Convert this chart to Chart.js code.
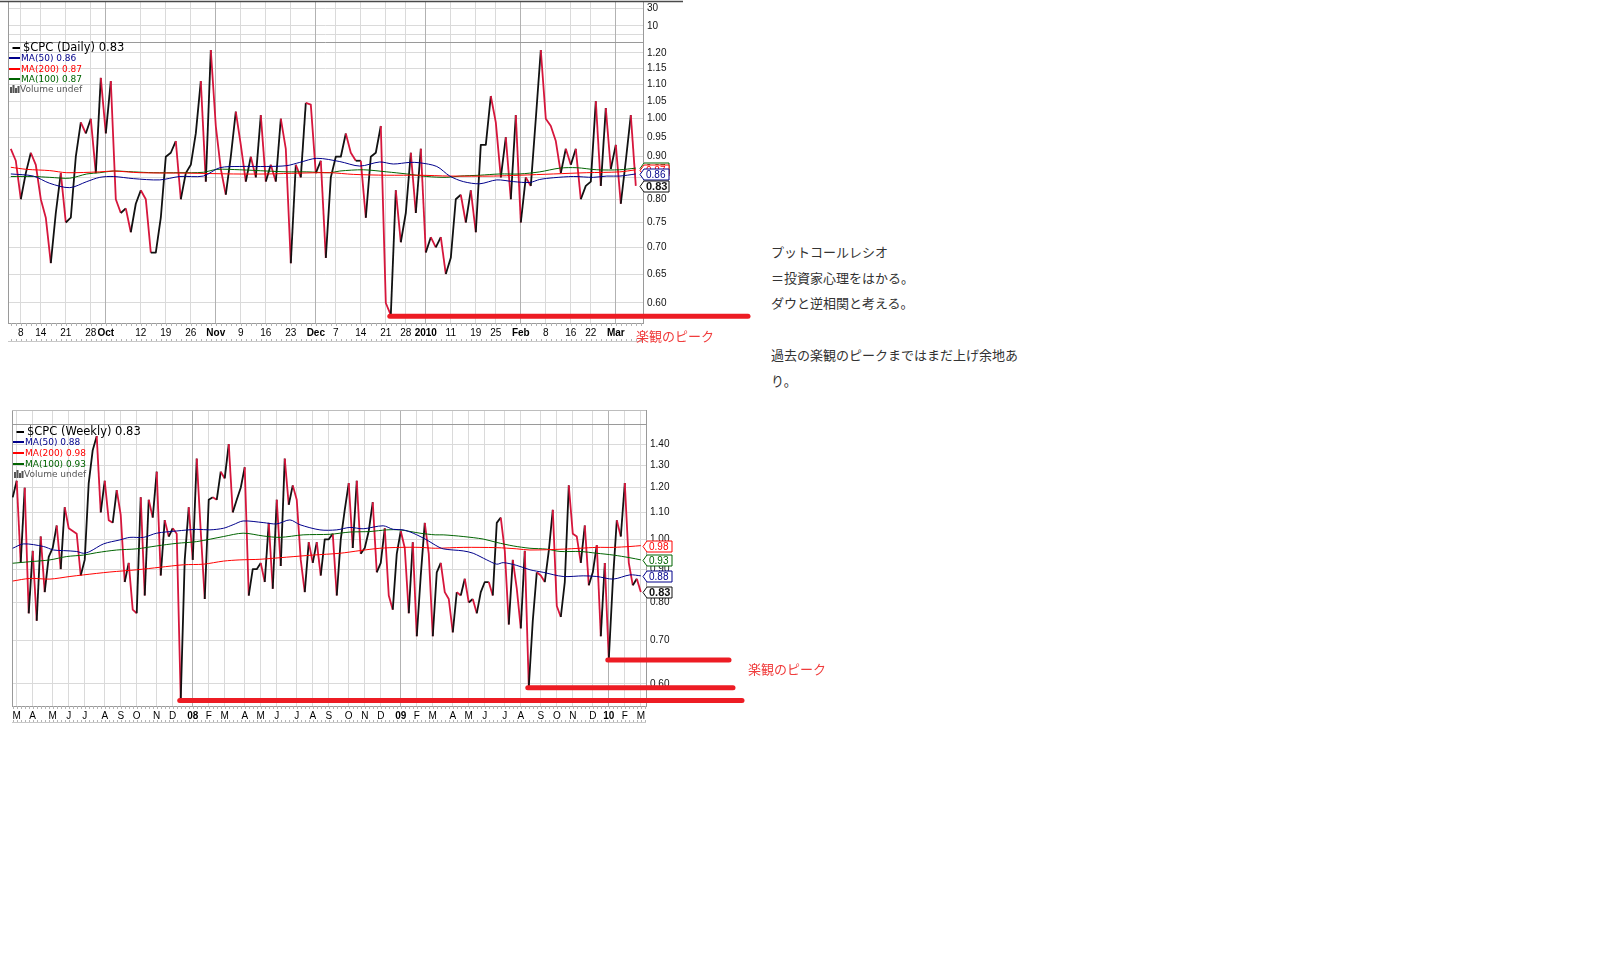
<!DOCTYPE html>
<html lang="ja">
<head>
<meta charset="utf-8">
<title>$CPC プットコールレシオ</title>
<script src="https://cdn.jsdelivr.net/npm/chart.js@4.4.1/dist/chart.umd.min.js"></script>
<style>
  html, body { margin: 0; padding: 0; background: #fff; }
  body { width: 1612px; height: 980px; position: relative; overflow: hidden; }
  canvas { position: absolute; left: 0; }
  #daily { top: 0; }
  #weekly { top: 408px; }
  .peak { position: absolute; color: #f03c3c; font: 13px "Noto Sans CJK JP", sans-serif; line-height: 18px; white-space: nowrap; }
  #memo { position: absolute; left: 771px; top: 239px; font: 13px "Noto Sans CJK JP", sans-serif; line-height: 25.7px; color: #333; white-space: nowrap; }
</style>
</head>
<body>
<canvas id="daily" width="760" height="350"></canvas>
<canvas id="weekly" width="760" height="320"></canvas>
<div class="peak" style="left:636px; top:327px;">楽観のピーク</div>
<div class="peak" style="left:748px; top:660px;">楽観のピーク</div>
<div id="memo">プットコールレシオ<br>＝投資家心理をはかる。<br>ダウと逆相関と考える。<br><br>過去の楽観のピークまではまだ上げ余地あ<br>り。</div>
<script>
// ---- 日足 $CPC (2009/9/3 - 2010/3/5, 営業日ごと) ----
const dailyCPC = [
  0.92, 0.89, 0.80, 0.86, 0.91, 0.88, 0.80, 0.76, 0.67, 0.77,
  0.86, 0.75, 0.76, 0.90, 0.99, 0.96, 1.00, 0.86, 1.12, 0.96,
  1.11, 0.80, 0.77, 0.78, 0.73, 0.79, 0.82, 0.80, 0.69, 0.69,
  0.76, 0.90, 0.91, 0.94, 0.80, 0.86, 0.88, 0.96, 1.11, 0.84,
  1.21, 0.98, 0.87, 0.81, 0.90, 1.02, 0.93, 0.84, 0.90, 0.85,
  1.01, 0.84, 0.88, 0.84, 1.00, 0.92, 0.67, 0.88, 0.85, 1.045,
  1.04, 0.86, 0.89, 0.68, 0.85, 0.90, 0.90, 0.96, 0.91, 0.89,
  0.89, 0.76, 0.90, 0.91, 0.98, 0.60, 0.58, 0.82, 0.71, 0.77,
  0.91, 0.77, 0.92, 0.69, 0.72, 0.70, 0.72, 0.65, 0.68, 0.80,
  0.81, 0.75, 0.82, 0.73, 0.93, 0.93, 1.065, 0.99, 0.85, 0.95,
  0.80, 1.01, 0.75, 0.85, 0.83, 1.00, 1.21, 1.00, 0.98, 0.94,
  0.86, 0.92, 0.88, 0.92, 0.80, 0.83, 0.84, 1.05, 0.83, 1.03,
  0.87, 0.93, 0.79, 0.89, 1.01, 0.83
];
// 移動平均は [営業日番号, 値] で読み取り
const dailyMA50 = [[0,0.858],[4.5,0.853],[7.8,0.836],[11.8,0.826],[15.2,0.840],[17.8,0.850],[20.5,0.852],[24.5,0.847],[29.8,0.844],[33.8,0.852],[38.5,0.853],[41.8,0.873],[45.8,0.876],[51.2,0.876],[55.2,0.878],[57.8,0.886],[61.2,0.896],[65.8,0.888],[69.8,0.877],[73.8,0.887],[76.5,0.882],[79.8,0.886],[81.8,0.885],[85.2,0.876],[87.8,0.853],[90.5,0.840],[93.8,0.835],[97.2,0.844],[100.5,0.840],[103.8,0.838],[105.8,0.845],[108.5,0.849],[112.5,0.852],[116.5,0.850],[119.2,0.853],[121.8,0.853],[125,0.858]];
const dailyMA200 = [[0,0.874],[3.2,0.869],[7.8,0.866],[11.2,0.861],[17.8,0.863],[20.5,0.865],[25.8,0.861],[35.2,0.860],[44.5,0.858],[51.2,0.858],[57.8,0.860],[63.8,0.861],[68.5,0.857],[75.2,0.855],[81.8,0.855],[87.8,0.853],[96.5,0.853],[101.8,0.855],[108.5,0.858],[115.2,0.861],[121.8,0.863],[125,0.868]];
const dailyMA100 = [[0,0.852],[4.5,0.852],[7.8,0.850],[11.8,0.848],[15.2,0.858],[17.8,0.861],[20.5,0.865],[24.5,0.863],[28.5,0.861],[33.8,0.861],[38.5,0.862],[41.2,0.869],[45.8,0.868],[51.2,0.865],[55.2,0.863],[59.2,0.863],[63.8,0.861],[65.8,0.865],[70.5,0.868],[75.2,0.863],[79.2,0.858],[83.2,0.852],[87.2,0.850],[89.8,0.853],[93.8,0.855],[97.8,0.858],[101.8,0.858],[105.8,0.863],[109.8,0.872],[113.2,0.873],[117.2,0.868],[121.8,0.868],[125,0.872]];
const dailyTickPos = [2, 6, 11, 16, 19, 26, 31, 36, 41, 46, 51, 56, 61, 65, 70, 75, 79, 83, 88, 93, 97, 102, 107, 112, 116, 121];
const dailyTickLabels = ['8','14','21','28','Oct','12','19','26','Nov','9','16','23','Dec','7','14','21','28','2010','11','19','25','Feb','8','16','22','Mar'];
const dailyYTicks = [0.60, 0.65, 0.70, 0.75, 0.80, 0.85, 0.90, 0.95, 1.00, 1.05, 1.10, 1.15, 1.20];
const dailyTopTicks = [0, 10, 30];
const dailyPeakIdx = [76];

// ---- 週足 $CPC (2007/3 - 2010/3, 週ごと) ----
const weeklyCPC = [
  1.16, 1.23, 0.92, 1.20, 0.77, 0.96, 0.75, 1.01, 0.83, 0.94,
  0.97, 1.05, 0.90, 1.12, 1.04, 1.03, 1.02, 0.88, 0.93, 1.22,
  1.37, 1.44, 1.10, 1.23, 1.07, 1.06, 1.19, 1.09, 0.86, 0.92,
  0.78, 0.77, 1.16, 0.82, 1.15, 1.08, 1.27, 0.88, 1.07, 1.01,
  1.04, 1.02, 0.568, 0.93, 1.12, 0.93, 1.33, 1.03, 0.81, 1.15,
  1.16, 1.15, 1.27, 1.24, 1.40, 1.10, 1.15, 1.20, 1.29, 0.82,
  0.90, 0.90, 0.92, 0.86, 1.06, 0.84, 1.15, 0.91, 1.33, 1.13,
  1.21, 1.15, 0.93, 0.83, 0.99, 0.92, 0.99, 0.88, 1.00, 1.00,
  1.02, 0.82, 1.00, 1.11, 1.22, 0.97, 1.23, 0.95, 0.97, 1.03,
  1.14, 0.89, 0.92, 1.04, 0.82, 0.78, 0.95, 1.03, 0.97, 0.77,
  0.99, 0.71, 0.88, 1.06, 0.95, 0.71, 0.89, 0.92, 0.83, 0.81,
  0.72, 0.83, 0.82, 0.87, 0.80, 0.81, 0.77, 0.83, 0.86, 0.86,
  0.82, 1.06, 1.08, 0.96, 0.74, 0.93, 0.84, 0.73, 0.96, 0.594,
  0.75, 0.89, 0.88, 0.86, 0.96, 1.11, 0.79, 0.76, 0.86, 1.21,
  1.02, 1.01, 0.92, 1.05, 0.85, 0.89, 0.98, 0.71, 0.92, 0.655,
  0.86, 1.07, 1.01, 1.22, 0.92, 0.85, 0.87, 0.83
];
const weeklyMA50 = [[0,0.969],[2.7,0.984],[7.7,0.975],[10.2,0.963],[12.7,0.961],[16,0.958],[17.7,0.952],[19.3,0.958],[22.7,0.984],[26.8,0.998],[29.3,1.007],[32.7,1.007],[36,1.022],[41,1.030],[46,1.036],[49.3,1.034],[52.7,1.040],[55.1,1.053],[57.6,1.067],[62.6,1.061],[66,1.056],[69.3,1.071],[71.8,1.053],[76.8,1.034],[81,1.034],[84.3,1.043],[87.6,1.038],[92.6,1.049],[95.1,1.036],[97.6,1.034],[100.1,1.022],[103.5,0.998],[105.6,0.980],[107.6,0.967],[112.6,0.960],[115.1,0.952],[118.5,0.930],[121,0.916],[122.6,0.921],[126,0.912],[129.3,0.898],[132.6,0.890],[137.6,0.877],[142.6,0.879],[146,0.877],[150.1,0.869],[154.3,0.882],[157,0.879]];
const weeklyMA200 = [[0,0.863],[4.3,0.871],[9.3,0.869],[14.3,0.877],[17.7,0.882],[24.3,0.891],[31,0.898],[36.8,0.906],[42.7,0.914],[47.7,0.916],[52.7,0.926],[56.8,0.930],[61.8,0.932],[68.5,0.939],[75.1,0.946],[81.8,0.952],[86.8,0.961],[91.8,0.969],[96.8,0.972],[101.8,0.972],[105.6,0.969],[112.6,0.972],[121,0.971],[126,0.967],[129.3,0.963],[137.6,0.966],[141.8,0.969],[146,0.972],[150.1,0.972],[154.3,0.975],[157,0.978]];
const weeklyMA100 = [[0,0.919],[4.3,0.924],[9.3,0.930],[13.5,0.941],[17.7,0.946],[21,0.954],[26,0.963],[31,0.967],[36,0.977],[41,0.986],[46,0.992],[52.7,1.010],[57.6,1.022],[62.6,1.012],[66.8,1.007],[72.6,1.016],[79.3,1.018],[84.3,1.026],[89.3,1.028],[93.5,1.034],[96.8,1.034],[101.8,1.022],[105.6,1.016],[107.6,1.016],[112.6,1.010],[117.6,1.001],[121,0.989],[125.1,0.977],[129.3,0.969],[133.5,0.966],[136.8,0.958],[141.8,0.958],[146,0.952],[150.1,0.946],[154.3,0.937],[157,0.930]];
const weeklyTickPos = [1,5,10,14,18,23,27,31,36,40,45,49,53,58,62,66,71,75,79,84,88,92,97,101,105,110,114,118,123,127,132,136,140,145,149,153,157];
const weeklyTickLabels = ['M','A','M','J','J','A','S','O','N','D','08','F','M','A','M','J','J','A','S','O','N','D','09','F','M','A','M','J','J','A','S','O','N','D','10','F','M'];
const weeklyYTicks = [0.60, 0.70, 0.80, 0.90, 1.00, 1.10, 1.20, 1.30, 1.40];
const weeklyPeakIdx = [42, 129, 149];

Chart.defaults.font.family = "'Liberation Sans', Arial, sans-serif";
Chart.defaults.font.size = 10;
Chart.defaults.color = '#111';

const UP = '#111111', DOWN = '#d6163c';
const NAVY = '#00008b', RED = '#ff0000', GREEN = '#006400';
const GRID = '#dadada', GRID_MAJOR = '#b2b2b2', FRAME = '#9a9a9a';
const PEAK_RED = '#ed1c24';

const fmt2 = v => v.toFixed(2);
const lastOf = arr => { const p = arr[arr.length - 1]; return Array.isArray(p) ? p[1] : p; };

// 軸ラベルのはみ出し分でプロット領域が縮まないようにする
function noPadding(s) {
  s.paddingTop = 0; s.paddingBottom = 0; s.paddingLeft = 0; s.paddingRight = 0;
}

// 枠線と目盛りの罫線
const panelFrame = {
  id: 'panelFrame',
  beforeDatasetsDraw(chart, args, o) {
    const { ctx, chartArea: a, scales } = chart;
    const main = scales.y, x = scales.x;
    ctx.save();
    ctx.lineWidth = 1;
    ctx.strokeStyle = FRAME;
    ctx.beginPath();
    ctx.moveTo(a.left + 0.5, a.top); ctx.lineTo(a.left + 0.5, a.bottom);
    const sep = Math.round(main.top) + 0.5;
    ctx.moveTo(a.left, sep); ctx.lineTo(a.right, sep);
    ctx.stroke();

    ctx.strokeStyle = o.topColor;
    ctx.lineWidth = o.topWidth;
    ctx.beginPath();
    ctx.moveTo(o.topFrom, a.top + 0.5); ctx.lineTo(a.right + o.topExtend, a.top + 0.5);
    ctx.stroke();

    // 日/週ごとの小目盛り
    ctx.strokeStyle = '#b4b4b4';
    ctx.lineWidth = 1;
    ctx.beginPath();
    for (let i = Math.ceil(x.min); i <= x.max; i++) {
      const px = Math.round(x.getPixelForValue(i)) + 0.5;
      ctx.moveTo(px, a.bottom); ctx.lineTo(px, a.bottom + 3);
      ctx.moveTo(px, a.bottom + o.rulerGap - 2); ctx.lineTo(px, a.bottom + o.rulerGap);
    }
    ctx.stroke();
    ctx.strokeStyle = '#c8c8c8';
    ctx.beginPath();
    ctx.moveTo(a.left, a.bottom + o.rulerGap + 0.5); ctx.lineTo(a.right, a.bottom + o.rulerGap + 0.5);
    ctx.stroke();
    ctx.restore();
  }
};

// 左上の凡例
const stockLegend = {
  id: 'stockLegend',
  afterDraw(chart, args, o) {
    const { ctx, chartArea: a } = chart;
    const top = chart.scales.y.top;
    ctx.save();
    ctx.textBaseline = 'middle';
    o.items.forEach((it, i) => {
      const cy = Math.round(top + o.first + i * o.step);
      if (it.bars) {
        ctx.fillStyle = it.color;
        [[2, 6], [4.5, 8], [7, 5], [9.5, 7]].forEach(([dx, h]) => ctx.fillRect(a.left + dx, cy + 4 - h, 2, h));
      } else {
        ctx.fillStyle = it.color;
        ctx.fillRect(a.left + it.dash[0], cy - 1, it.dash[1] - it.dash[0], 2);
      }
      ctx.font = it.font;
      ctx.fillStyle = it.color;
      ctx.fillText(it.text, a.left + it.textAt, cy + 0.5);
    });
    ctx.restore();
  }
};

// 右軸の最新値タグ
const valueTags = {
  id: 'valueTags',
  afterDraw(chart, args, o) {
    const { ctx, chartArea: a } = chart;
    const y = chart.scales.y;
    ctx.save();
    ctx.textBaseline = 'middle';
    o.order.forEach(idx => {
      const ds = chart.data.datasets[idx];
      const v = ds.data[ds.data.length - 1].y;
      const py = Math.round(y.getPixelForValue(v)) + 0.5;
      const tip = a.right - 3, bx = a.right + 1, w = 25, h = 11;
      ctx.beginPath();
      ctx.moveTo(tip, py);
      ctx.lineTo(bx, py - h / 2);
      ctx.lineTo(bx + w, py - h / 2);
      ctx.lineTo(bx + w, py + h / 2);
      ctx.lineTo(bx, py + h / 2);
      ctx.closePath();
      ctx.fillStyle = '#fff';
      ctx.fill();
      ctx.lineWidth = 1;
      ctx.strokeStyle = ds.borderColor;
      ctx.stroke();
      ctx.font = idx === 0 ? "bold 11px 'Liberation Sans', Arial" : "10px 'Liberation Sans', Arial";
      ctx.fillStyle = ds.borderColor;
      ctx.fillText(fmt2(v), bx + 2, py + 0.5);
    });
    ctx.restore();
  }
};

// 「楽観のピーク」の赤線
const peakLines = {
  id: 'peakLines',
  afterDraw(chart, args, o) {
    const { ctx, chartArea: a, scales: { x, y } } = chart;
    const values = chart.data.datasets[0].data;
    ctx.save();
    ctx.strokeStyle = PEAK_RED;
    ctx.lineWidth = 5;
    ctx.lineCap = 'round';
    o.index.forEach((idx, i) => {
      const py = y.getPixelForValue(values[idx].y) + 1;
      ctx.beginPath();
      ctx.moveTo(x.getPixelForValue(idx) - 1, py);
      ctx.lineTo(a.right + o.extend[i], py);
      ctx.stroke();
    });
    ctx.restore();
  }
};

function priceSet(values) {
  return {
    data: values.map((v, i) => ({ x: i, y: v })),
    xAxisID: 'x', yAxisID: 'y',
    borderColor: UP,
    borderWidth: 1.8,
    borderJoinStyle: 'round',
    pointRadius: 0,
    tension: 0,
    order: 1,
    segment: { borderColor: s => (s.p1.parsed.y < s.p0.parsed.y ? DOWN : UP) }
  };
}

function maSet(pairs, color) {
  return {
    data: pairs.map(([x, y]) => ({ x, y })),
    xAxisID: 'x', yAxisID: 'y',
    borderColor: color,
    borderWidth: 1,
    pointRadius: 0,
    tension: 0.3,
    order: 0
  };
}

function legendItems(title, cpc, ma50, ma200, ma100) {
  const big = "11.5px 'DejaVu Sans', sans-serif", small = "9px 'DejaVu Sans', sans-serif";
  return [
    { text: title + ' ' + fmt2(lastOf(cpc)), color: '#000', font: big, dash: [4.5, 12], textAt: 15 },
    { text: 'MA(50) ' + fmt2(lastOf(ma50)), color: NAVY, font: small, dash: [1, 12], textAt: 13 },
    { text: 'MA(200) ' + fmt2(lastOf(ma200)), color: RED, font: small, dash: [1, 12], textAt: 13 },
    { text: 'MA(100) ' + fmt2(lastOf(ma100)), color: GREEN, font: small, dash: [1, 12], textAt: 13 },
    { text: 'Volume undef', color: '#555', font: small, bars: true, textAt: 12 }
  ];
}

function xScale(min, max, pos, labels, isMajor, height) {
  return {
    type: 'linear', min, max, bounds: 'data',
    afterBuildTicks: s => { s.ticks = pos.map(v => ({ value: v })); },
    afterFit: s => { s.height = height; noPadding(s); },
    ticks: {
      autoSkip: false, maxRotation: 0, minRotation: 0, padding: 4, color: '#000',
      callback: (v, i) => labels[i],
      font: c => ({ size: 10, weight: labels[c.index] && isMajor(labels[c.index]) ? 'bold' : 'normal' })
    },
    grid: {
      drawTicks: false,
      color: c => (labels[c.index] && isMajor(labels[c.index]) ? GRID_MAJOR : GRID)
    },
    border: { color: FRAME }
  };
}

function logScale(min, max, ticks, weight, width) {
  return {
    type: 'logarithmic', position: 'right', stack: 'panels', stackWeight: weight, weight: 1,
    min, max, bounds: 'data',
    afterBuildTicks: s => { s.ticks = ticks.map(v => ({ value: v })); },
    afterFit: s => { s.width = width; noPadding(s); },
    ticks: { autoSkip: false, padding: 4, color: '#111', callback: v => fmt2(v) },
    grid: { color: GRID, drawTicks: false },
    border: { color: FRAME }
  };
}

const baseOptions = {
  responsive: false,
  animation: false,
  events: []
};

// 日足チャート
new Chart(document.getElementById('daily'), {
  type: 'line',
  data: {
    datasets: [
      priceSet(dailyCPC),
      maSet(dailyMA50, NAVY),
      maSet(dailyMA200, RED),
      maSet(dailyMA100, GREEN)
    ]
  },
  options: {
    ...baseOptions,
    layout: { padding: { left: 8, top: 1, right: 0, bottom: 0 } },
    scales: {
      yTop: {
        type: 'linear', position: 'right', stack: 'panels', stackWeight: 41, weight: 0,
        min: -7.8, max: 37.8, bounds: 'data',
        afterBuildTicks: s => { s.ticks = dailyTopTicks.map(v => ({ value: v })); },
        afterFit: s => { s.width = 117; noPadding(s); },
        ticks: { autoSkip: false, padding: 4, color: '#111', callback: v => (v === 0 ? '' : String(v)) },
        grid: { color: GRID, drawTicks: false },
        border: { color: FRAME }
      },
      y: logScale(0.5676, 1.237, dailyYTicks, 281, 117),
      x: xScale(-0.56, 126.44, dailyTickPos, dailyTickLabels, l => !/^\d{1,2}$/.test(l), 27)
    },
    plugins: {
      legend: { display: false },
      tooltip: { enabled: false },
      panelFrame: { topColor: '#4a4a4a', topWidth: 1.5, topFrom: 0, topExtend: 40, rulerGap: 18 },
      stockLegend: { first: 6, step: 10.3, items: legendItems('$CPC (Daily)', dailyCPC, dailyMA50, dailyMA200, dailyMA100) },
      valueTags: { order: [3, 2, 1, 0] },
      peakLines: { index: dailyPeakIdx, extend: [105] }
    }
  },
  plugins: [panelFrame, stockLegend, valueTags, peakLines]
});

// 週足チャート
new Chart(document.getElementById('weekly'), {
  type: 'line',
  data: {
    datasets: [
      priceSet(weeklyCPC),
      maSet(weeklyMA50, NAVY),
      maSet(weeklyMA200, RED),
      maSet(weeklyMA100, GREEN)
    ]
  },
  options: {
    ...baseOptions,
    layout: { padding: { left: 12, top: 2, right: 0, bottom: 0 } },
    scales: {
      yTop: {
        type: 'linear', position: 'right', stack: 'panels', stackWeight: 14, weight: 0,
        min: 0, max: 1, bounds: 'data',
        afterBuildTicks: s => { s.ticks = []; },
        afterFit: s => { s.width = 114; noPadding(s); },
        ticks: { display: false },
        grid: { display: false },
        border: { color: FRAME }
      },
      y: logScale(0.555, 1.503, weeklyYTicks, 282, 114),
      x: xScale(-0.175, 158.3, weeklyTickPos, weeklyTickLabels, l => /^\d/.test(l), 22)
    },
    plugins: {
      legend: { display: false },
      tooltip: { enabled: false },
      panelFrame: { topColor: '#bdbdbd', topWidth: 1, topFrom: 12, topExtend: 0, rulerGap: 16 },
      stockLegend: { first: 7.7, step: 10.6, items: legendItems('$CPC (Weekly)', weeklyCPC, weeklyMA50, weeklyMA200, weeklyMA100) },
      valueTags: { order: [3, 2, 1, 0] },
      peakLines: { index: weeklyPeakIdx, extend: [96, 87, 83] }
    }
  },
  plugins: [panelFrame, stockLegend, valueTags, peakLines]
});
</script>
</body>
</html>
